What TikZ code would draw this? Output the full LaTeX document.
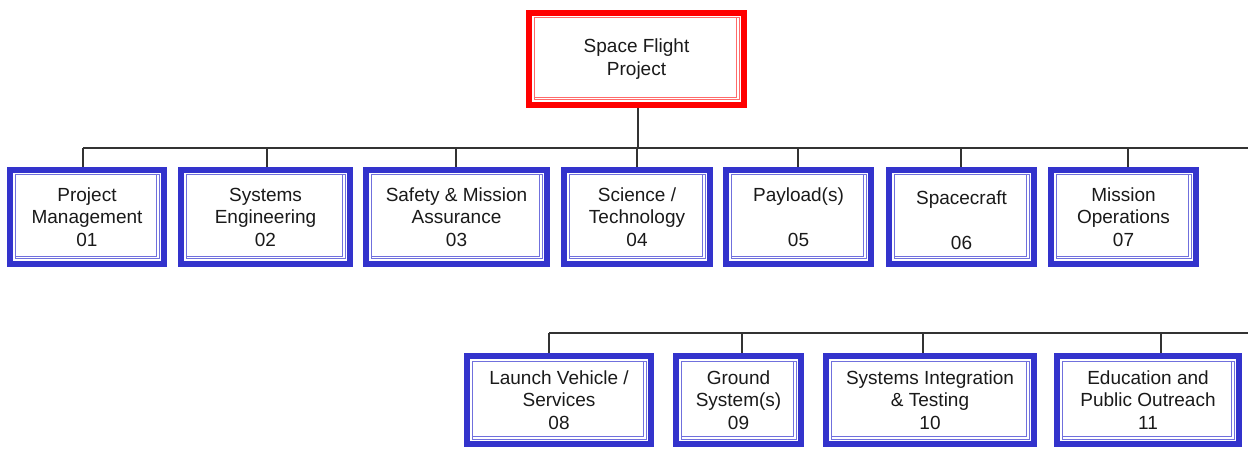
\documentclass[tikz,border=0pt]{standalone}
\usepackage{fontspec}
\setmainfont{Liberation Sans}
\definecolor{wbsblue}{HTML}{3333CC}
\definecolor{wbsbluel}{HTML}{7070DD}
\definecolor{wbsred}{HTML}{FF0000}
\definecolor{wbsredl}{HTML}{FF6A6A}
\definecolor{linegray}{HTML}{333333}
\definecolor{txt}{HTML}{1A1A1A}
\newcommand{\lowr}[1]{\raisebox{-3pt}[\height][\depth]{#1}}
\begin{document}
\begin{tikzpicture}[x=1pt,y=-1pt,
  box/.style={draw=wbsblue, line width=6pt, fill=white, inner sep=0pt, align=center,
    font=\fontsize{19}{22.5}\selectfont, text=txt},
  topbox/.style={box, draw=wbsred},
  row1/.style={box, minimum height=94pt},
  row2/.style={box, minimum height=88pt},
  conn/.style={draw=linegray, line width=1.3pt},
  innerb/.style={draw=wbsbluel, line width=1pt},
  innerr/.style={draw=wbsredl, line width=1pt}
]
\useasboundingbox (0,0) rectangle (1248,449);

% top node
\node[topbox, minimum width=215pt, minimum height=92pt] (top) at (636.5,59) {Space Flight\\Project};

% first row
\node[row1, minimum width=154pt] (c1) at (87,217)    {Project\\Management\\01};
\node[row1, minimum width=169pt] (c2) at (265.5,217) {Systems\\Engineering\\02};
\node[row1, minimum width=181pt] (c3) at (456.5,217) {Safety \& Mission\\Assurance\\03};
\node[row1, minimum width=146pt] (c4) at (637,217)   {Science /\\Technology\\04};
\node[row1, minimum width=145pt] (c5) at (798.5,217) {Payload(s)\\\strut\\05};
\node[row1, minimum width=145pt] (c6) at (961.5,217) {\lowr{Spacecraft}\\\strut\\\lowr{06}};
\node[row1, minimum width=145pt] (c7) at (1123.5,217) {Mission\\Operations\\07};

% second row
\node[row2, minimum width=184pt] (c8)  at (559,400)  {Launch Vehicle /\\Services\\08};
\node[row2, minimum width=125pt] (c9)  at (738.5,400) {Ground\\System(s)\\09};
\node[row2, minimum width=208pt] (c10) at (930,400)  {Systems Integration\\\& Testing\\10};
\node[row2, minimum width=182pt] (c11) at (1148,400) {Education and\\Public Outreach\\11};

% inner lines
\draw[innerr] ([shift={(8pt,-8pt)}]top.north west) rectangle ([shift={(-8pt,8pt)}]top.south east);
\draw[innerr] ([shift={(-10.5pt,-8pt)}]top.north east) |- ([shift={(8pt,10.5pt)}]top.south west);
\foreach \n in {c1,c2,c3,c4,c5,c6,c7,c8,c9,c10,c11}{
  \draw[innerb] ([shift={(8pt,-8pt)}]\n.north west) rectangle ([shift={(-8pt,8pt)}]\n.south east);
  \draw[innerb] ([shift={(-10.5pt,-8pt)}]\n.north east) |- ([shift={(8pt,10.5pt)}]\n.south west);
}

% bus coordinates
\coordinate (busA) at (83,148);
\coordinate (busAend) at (1248,148);
\coordinate (busB) at (549,333);
\coordinate (busBend) at (1248,333);

\draw[conn] (busA) -- (busAend);
\draw[conn] (busB) -- (busBend);
\draw[conn] ([xshift=1.5pt]top.south) -- ([xshift=1.5pt]top.south |- busA);

\foreach \n/\dx in {c1/-4,c2/1.5,c3/-0.5,c4/0,c5/-0.5,c6/-0.5,c7/4.5}{
  \draw[conn] ([xshift=\dx pt]\n.north) -- ([xshift=\dx pt]\n.north |- busA);
}
\foreach \n/\dx in {c8/-10,c9/3.5,c10/-7,c11/13}{
  \draw[conn] ([xshift=\dx pt]\n.north) -- ([xshift=\dx pt]\n.north |- busB);
}
\end{tikzpicture}
\end{document}
